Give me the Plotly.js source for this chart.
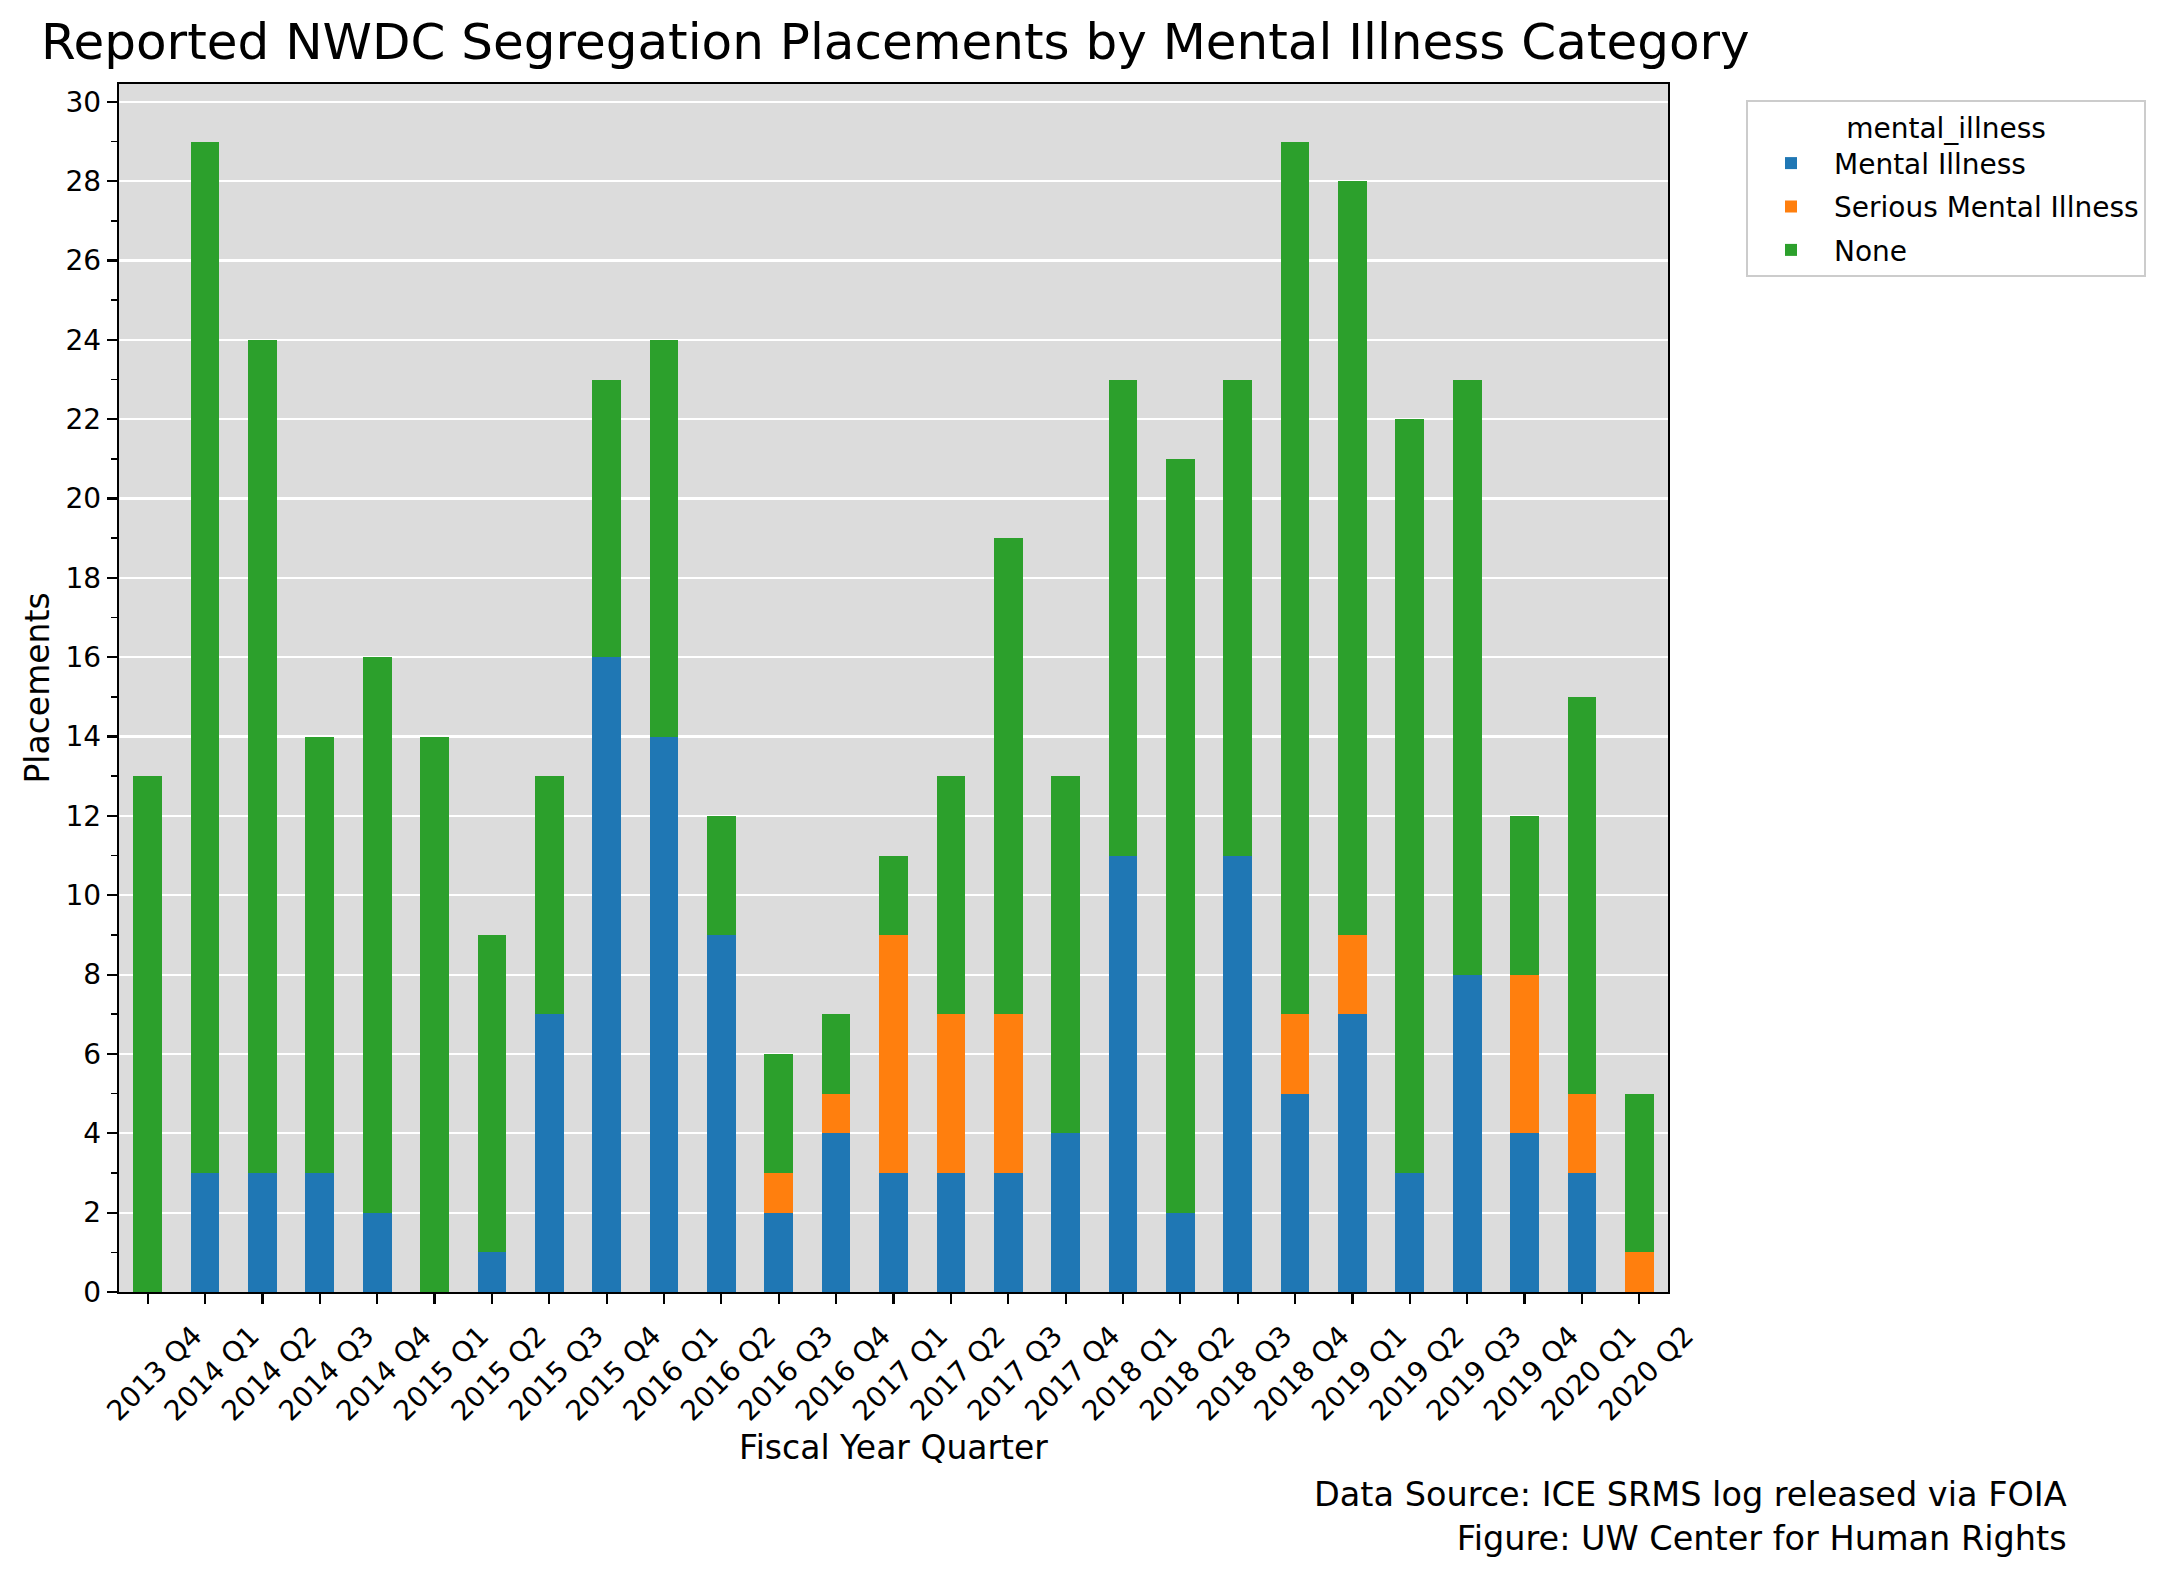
<!DOCTYPE html>
<html>
<head>
<meta charset="utf-8">
<script src="https://cdn.plot.ly/plotly-3.0.1.min.js"></script>
<style>html,body{margin:0;padding:0;background:#fff;}#chart{width:2167px;height:1573px;}</style>
</head>
<body>
<div id="chart"></div>
<script>
const quarters = ["2013 Q4","2014 Q1","2014 Q2","2014 Q3","2014 Q4","2015 Q1","2015 Q2","2015 Q3","2015 Q4",
  "2016 Q1","2016 Q2","2016 Q3","2016 Q4","2017 Q1","2017 Q2","2017 Q3","2017 Q4",
  "2018 Q1","2018 Q2","2018 Q3","2018 Q4","2019 Q1","2019 Q2","2019 Q3","2019 Q4","2020 Q1","2020 Q2"];
const mentalIllness =        [0,3,3,3,2,0,1,7,16,14,9,2,4,3,3,3,4,11,2,11,5,7,3,8,4,3,0];
const seriousMentalIllness = [0,0,0,0,0,0,0,0,0,0,0,1,1,6,4,4,0,0,0,0,2,2,0,0,4,2,1];
const noneCategory =         [13,26,21,11,14,14,8,6,7,10,3,3,2,2,6,12,9,12,19,12,22,19,19,15,4,10,4];
const seriesNames = ["Mental Illness","Serious Mental Illness","None"];
const seriesColors = ["#1f77b4","#ff7f0e","#2ca02c"];
const seriesValues = [mentalIllness, seriousMentalIllness, noneCategory];

const font = "DejaVu Sans, Liberation Sans, sans-serif";
const traces = seriesValues.map((vals, i) => ({
  type: "bar",
  name: seriesNames[i],
  legendgroup: "g" + i,
  x: quarters,
  y: vals,
  marker: {color: seriesColors[i], line: {width: 0}},
  hoverinfo: "x+y+name"
}));

const L = 119, R = 1668, T = 84, B = 1292, W = 2167, H = 1573;
const pw = R - L, ph = B - T;

const layout = {
  width: W, height: H,
  margin: {l: L, r: W - R, t: T, b: H - B, pad: 0},
  paper_bgcolor: "#ffffff",
  plot_bgcolor: "#dcdcdc",
  barmode: "stack",
  bargap: 0.5,
  font: {family: font, size: 28, color: "#000"},
  title: {
    text: "Reported NWDC Segregation Placements by Mental Illness Category",
    font: {family: font, size: 50, color: "#000"},
    x: 41 / W, xref: "container", xanchor: "left",
    y: 1 - 41 / H, yref: "container", yanchor: "middle"
  },
  xaxis: {
    type: "category",
    range: [-0.5, 26.5],
    tickangle: -45,
    ticklabelshift: 46,
    ticklabelstandoff: 4,
    ticks: "outside", ticklen: 10, tickwidth: 2.2, tickcolor: "#000",
    showline: true, mirror: true, linecolor: "#000", linewidth: 2.2,
    showgrid: false, zeroline: false,
    tickfont: {family: font, size: 28},
    title: {text: "Fiscal Year Quarter", font: {family: font, size: 33}, standoff: 5}
  },
  yaxis: {
    range: [0, 30.45],
    dtick: 2, tick0: 0,
    ticks: "outside", ticklen: 10, tickwidth: 2.2, tickcolor: "#000",
    minor: {dtick: 1, tick0: 0, ticks: "outside", ticklen: 6, tickwidth: 1.6, tickcolor: "#000", showgrid: false},
    showline: true, mirror: true, linecolor: "#000", linewidth: 2.2,
    showgrid: true, gridcolor: "#ffffff", gridwidth: 2.2,
    zeroline: false,
    tickfont: {family: font, size: 28},
    title: {text: "Placements", font: {family: font, size: 33}, standoff: 6}
  },
  legend: {
    x: (1746 - L) / pw, y: (B - 100) / ph,
    xref: "paper", yref: "paper",
    xanchor: "left", yanchor: "top",
    traceorder: "grouped",
    tracegroupgap: 4,
    bgcolor: "#ffffff", bordercolor: "#cccccc", borderwidth: 2,
    font: {family: font, size: 28},
    title: {text: "mental_illness", side: "top center", font: {family: font, size: 28}},
    itemwidth: 76
  },
  annotations: [{
    text: "Data Source: ICE SRMS log released via FOIA<br>Figure: UW Center for Human Rights",
    xref: "paper", yref: "paper",
    x: (2069 - L) / pw, y: -(1516 - B) / ph,
    xanchor: "right", yanchor: "middle", align: "right",
    showarrow: false,
    font: {family: font, size: 33.5, color: "#000"}
  }],
  showlegend: true
};

Plotly.newPlot("chart", traces, layout, {displayModeBar: false, staticPlot: true});
</script>
</body>
</html>
